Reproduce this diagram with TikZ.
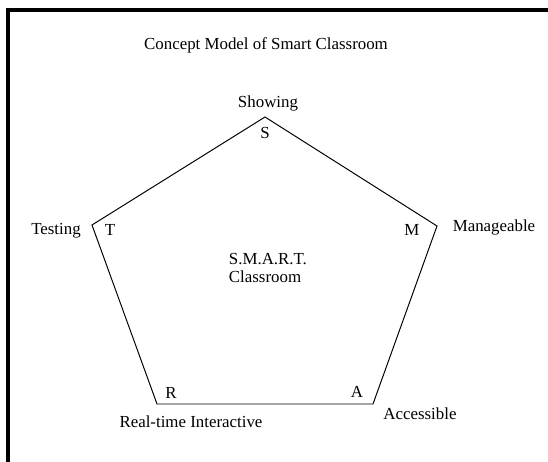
\documentclass[tikz,border=0pt]{standalone}
\usepackage{fontspec}
\setmainfont{Liberation Serif}
\usetikzlibrary{positioning}

\begin{document}
\begin{tikzpicture}[x=0.025cm, y=-0.025cm, font=\fontsize{12}{14}\selectfont]
    \useasboundingbox (0,0) rectangle (548,462);
    \draw [line width=2.8pt] (8,462) -- (8,10) -- (548,10);
    \node (title) at (266,45) {Concept Model of Smart Classroom};

    % Pentagon corners
    \foreach \n/\x/\y in {s/265/117, m/437/226, a/373/404, r/157/404, t/92/225} {
        \coordinate (\n) at (\x,\y);
    }
    \draw [line width=0.7pt] (s) -- (m) -- (a) -- (r) -- (t) -- cycle;

    % Letters inside corners
    \foreach \n/\x/\y/\lab in {ls/265/133/S, lm/412/230/M, la/357/392/A, lr/171/393/R, lt/110/230/T} {
        \node (\n) at (\x,\y) {\lab};
    }

    % Names outside corners
    \foreach \n/\x/\y/\lab in {showing/268/103/Showing, manage/494/227/Manageable, access/420/414/Accessible, realtime/191/422/Real-time Interactive, testing/56/231/Testing} {
        \node (\n) at (\x,\y) {\lab};
    }

    \node [anchor=west, align=left, font=\fontsize{12}{13}\selectfont] (centre) at (224,268) {S.M.A.R.T.\\Classroom};
\end{tikzpicture}
\end{document}
